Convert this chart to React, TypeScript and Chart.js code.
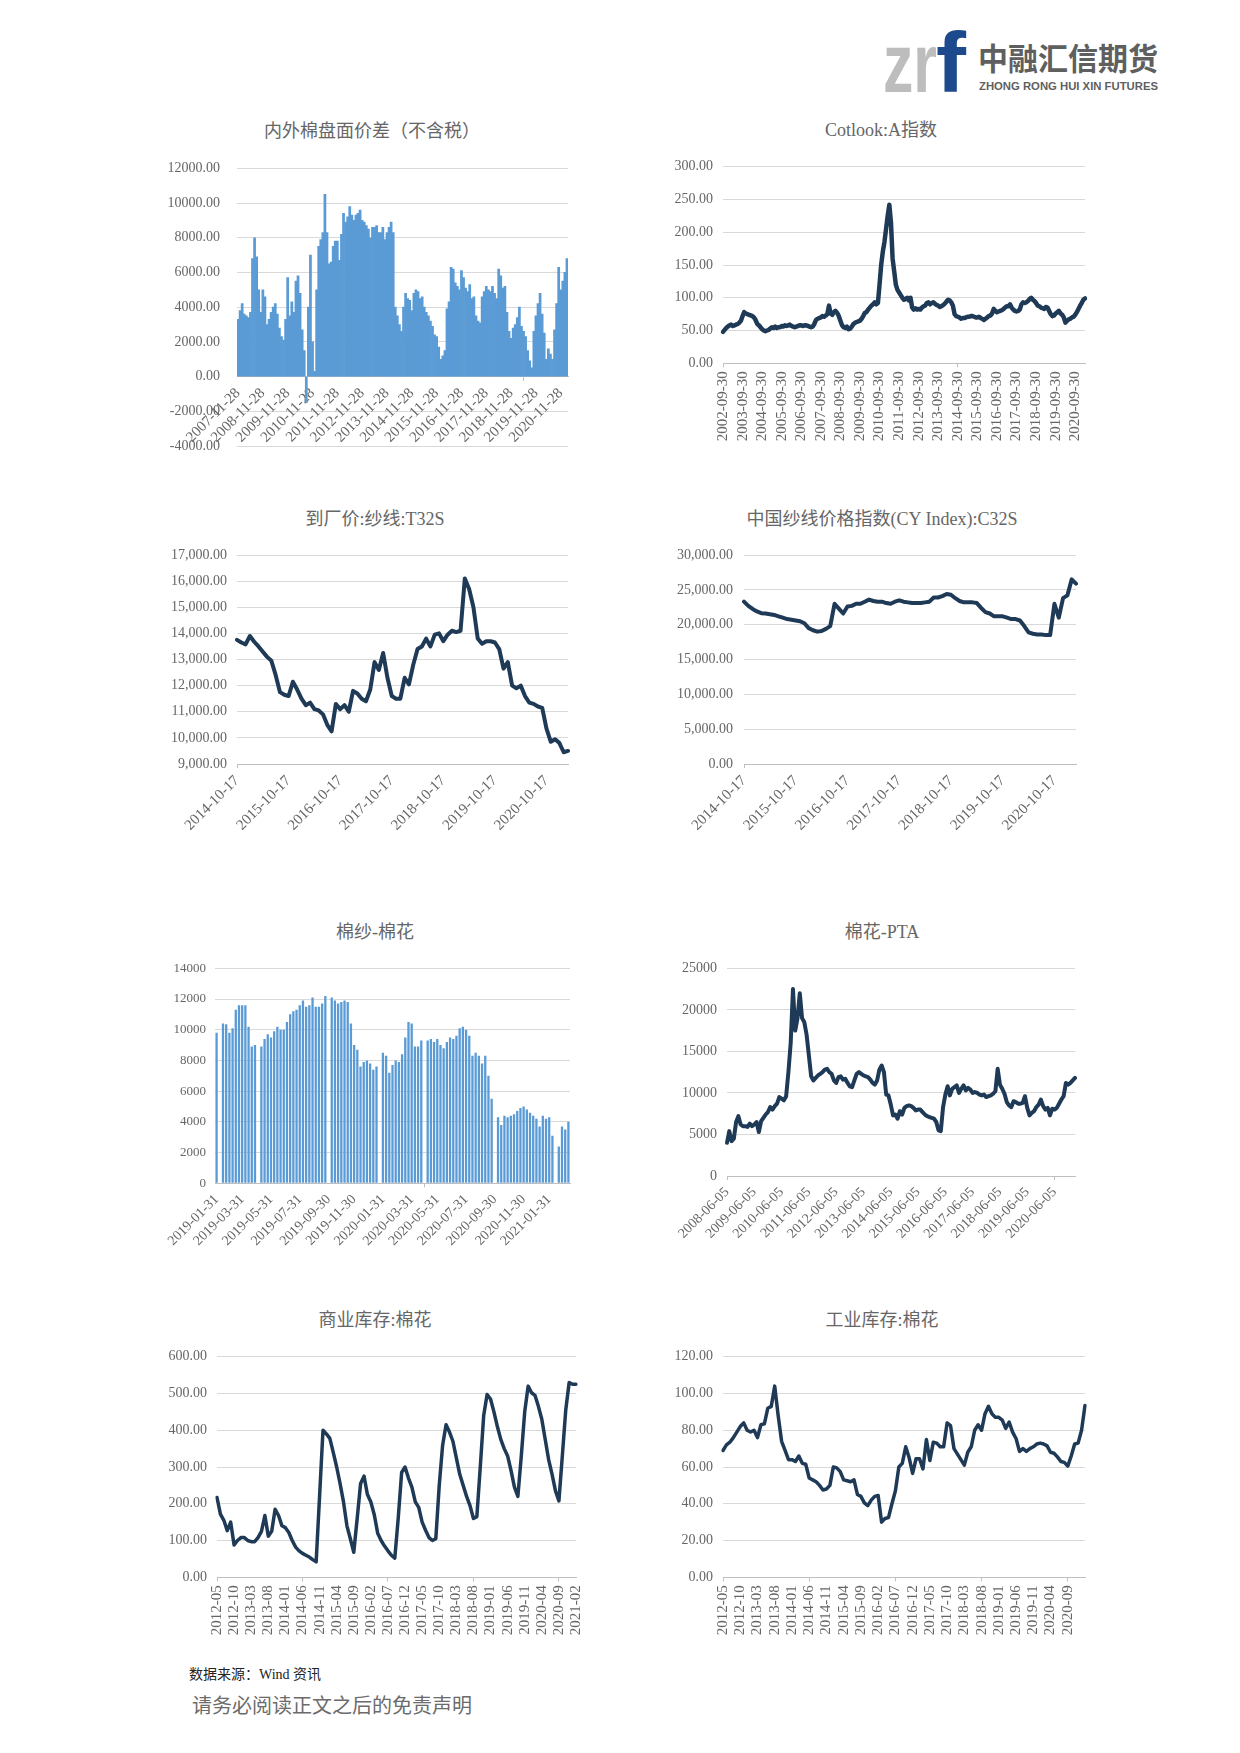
import React, { useEffect, useRef } from 'react';
import { Chart, registerables } from 'chart.js';

Chart.register(...registerables);

// ---------------- DATA ----------------
// 1. 内外棉盘面价差（不含税） monthly from 2007-11-28
const spreadValues = [
  3300, 3800, 4200, 3600, 3500, 3400, 3700, 6800, 8000, 6900,
  5000, 3700, 5000, 4600, 3000, 3300, 3700, 4000, 4200, 3600,
  2800, 2300, 2100, 3300, 5700, 3500, 4300, 3700, 5500, 5800,
  4800, 2700, 1500, -1500, 4000, 7000, 2000, 300, 5000, 7500,
  7900, 8300, 10500, 8300, 6500, 6600, 7500, 7800, 7800, 6700,
  8200, 9400, 8900, 9200, 9800, 9300, 9000, 9300, 9400, 9600,
  9000, 8900, 8700, 8500, 8000, 8600, 8600, 8700, 8300, 8300,
  8600, 7900, 8300, 8600, 8900, 8300, 4000, 3500, 3000, 2600,
  4000, 4800, 4500, 4400, 3800, 4800, 5000, 4900, 4500, 4600,
  4000, 3700, 3500, 3200, 2900, 2400, 2300, 1700, 1000, 1200,
  1500, 3900, 4300, 6300, 6200, 5400, 5200, 5000, 6100, 5700,
  5100, 4900, 5300, 4500, 4600, 3500, 3200, 3100, 4600, 4900,
  5200, 5000, 4900, 5200, 4800, 4500, 6200, 5800, 5100, 5200,
  3700, 2600, 2200, 2800, 3000, 3400, 4000, 2900, 2600, 2300,
  1500, 900, 500, 2600, 3500, 4200, 4800, 3600, 2500, 1000,
  1600, 1300, 1000, 2700, 4200, 6300, 5000, 5500, 6000, 6800,
];
const spreadTicks = [
  '2007-11-28', '2008-11-28', '2009-11-28', '2010-11-28', '2011-11-28', '2012-11-28', '2013-11-28',
  '2014-11-28', '2015-11-28', '2016-11-28', '2017-11-28', '2018-11-28', '2019-11-28', '2020-11-28',
];

// 2. Cotlook:A指数 monthly from 2002-09-30
const cotlookValues = [
  48, 51, 54, 56,
  58, 59, 57, 58, 59, 60, 62, 65, 72, 78, 76, 75,
  74, 73, 72, 70, 66, 60, 58, 55, 52, 50, 49, 50,
  51, 53, 55, 54, 56, 54, 55, 55, 57, 56, 58, 57,
  58, 59, 57, 56, 55, 56, 57, 58, 58, 57, 58, 58,
  57, 56, 55, 56, 60, 66, 68, 69, 70, 72, 71, 73,
  75, 88, 76, 74, 78, 80, 77, 72, 65, 58, 55, 54,
  56, 52, 53, 56, 60, 62, 63, 64, 65, 68, 72, 77,
  78, 82, 85, 88, 90, 93, 90, 92, 120, 150, 170, 185,
  205, 225, 242, 215, 160, 140, 120, 112, 108, 104, 100, 97,
  98, 100, 96, 100, 85, 82, 84, 82, 83, 82, 85, 87,
  88, 92, 93, 90, 92, 93, 91, 89, 88, 86, 87, 89,
  91, 94, 97, 96, 93, 88, 75, 72, 71, 70, 68, 69,
  69, 70, 71, 71, 72, 72, 71, 70, 70, 71, 69, 68,
  66, 68, 70, 72, 73, 76, 83, 80, 78, 79, 80, 81,
  83, 85, 87, 87, 90, 85, 82, 80, 79, 80, 82, 90,
  93, 92, 93, 95, 98, 100, 97, 95, 92, 88, 87, 85,
  84, 83, 86, 85, 80, 75, 72, 73, 76, 78, 80, 76,
  74, 70, 62, 65, 67, 68, 70, 71, 74, 78, 83, 88,
  92, 97, 99,
];
const cotlookTicks = [
  '2002-09-30', '2003-09-30', '2004-09-30', '2005-09-30', '2006-09-30', '2007-09-30', '2008-09-30',
  '2009-09-30', '2010-09-30', '2011-09-30', '2012-09-30', '2013-09-30', '2014-09-30', '2015-09-30',
  '2016-09-30', '2017-09-30', '2018-09-30', '2019-09-30', '2020-09-30',
];

// 3. 到厂价:纱线:T32S monthly from 2014-10-17
const t32sValues = [
  13750, 13650, 13580,
  13900, 13680, 13500, 13300, 13100, 12950, 12400, 11750, 11650, 11600, 12150, 11850,
  11500, 11250, 11350, 11100, 11050, 10900, 10500, 10250, 11300, 11100, 11250, 11000,
  11800, 11700, 11500, 11400, 11850, 12900, 12600, 13250, 12300, 11600, 11500, 11500,
  12300, 12050, 12800, 13400, 13500, 13800, 13500, 13950, 14000, 13700, 13950, 14100,
  14050, 14100, 16100, 15700, 15000, 13800, 13600, 13700, 13700, 13650, 13400, 12650,
  12900, 12000, 11900, 12000, 11600, 11350, 11300, 11200, 11150, 10350, 9850, 9950,
  9800, 9450, 9500,
];
const t32sTicks = ['2014-10-17', '2015-10-17', '2016-10-17', '2017-10-17', '2018-10-17', '2019-10-17', '2020-10-17'];

// 4. 中国纱线价格指数(CY Index):C32S monthly from 2014-10-17
const c32sValues = [
  23300, 22700, 22250,
  21900, 21650, 21600, 21500, 21400, 21200, 21000, 20800, 20700, 20600, 20500, 20200,
  19500, 19200, 19000, 19100, 19400, 19800, 23000, 22300, 21600, 22600, 22700, 23000,
  23000, 23300, 23600, 23400, 23300, 23300, 23100, 23000, 23300, 23500, 23300, 23200,
  23100, 23100, 23100, 23200, 23300, 23900, 23900, 24100, 24400, 24300, 23800, 23400,
  23200, 23200, 23200, 23100, 22400, 21800, 21600, 21200, 21200, 21200, 21000, 20800,
  20800, 20600, 19800, 18900, 18700, 18600, 18600, 18500, 18500, 23000, 21000, 23800,
  24200, 26500, 25900,
];
const c32sTicks = ['2014-10-17', '2015-10-17', '2016-10-17', '2017-10-17', '2018-10-17', '2019-10-17', '2020-10-17'];

// 5. 棉纱-棉花 weekly from 2019-01-31 (null = no trading)
const yarnCottonValues = [
  9800, null, 10400, 10350, 9800, 10100, 11300, 11600, 11600, 11600,
  10200, 8900, 9000, null, 8900, 9400, 9700, 9500, 9900, 10200,
  10000, 10000, 10500, 11000, 11200, 11300, 11600, 11900, 11500, 11600,
  12100, 11500, 11500, 11700, 12200, null, 12100, 11900, 11700, 11800,
  11900, 11800, 10400, 9000, 8700, 7600, 7900, 8000, 7800, 7400,
  7600, null, 8500, 8300, 7200, 7700, 8000, 7900, 8400, 9500,
  10500, 10400, 8900, 8900, 9300, null, 9300, 9400, 9200, 9400,
  9000, 8800, 9200, 9500, 9400, 9600, 10100, 10200, 10000, 9600,
  8300, 8500, 8300, 7800, 8300, 7000, 5500, null, 4300, 3800,
  4400, 4300, 4400, 4500, 4700, 4900, 5000, 4800, 4600, 4400,
  4200, 3700, 4400, 4200, 4300, 3100, null, 2400, 3700, 3500,
  4000,
];
const yarnCottonTicks = [
  '2019-01-31', '2019-03-31', '2019-05-31', '2019-07-31', '2019-09-30', '2019-11-30', '2020-01-31',
  '2020-03-31', '2020-05-31', '2020-07-31', '2020-09-30', '2020-11-30', '2021-01-31',
];

// 6. 棉花-PTA monthly from 2008-06-05
const cottonPtaValues = [
  4000, 5400, 4200, 4500, 6500, 7200, 6200, 6000, 6000, 5900,
  6300, 6000, 6200, 6500, 5300, 6600, 7000, 7400, 7700, 8300,
  8000, 8400, 8700, 9500, 9300, 9100, 9600, 12500, 16000, 22500,
  17500, 19000, 22000, 19000, 18500, 17000, 14500, 12000, 11500, 11800,
  12100, 12300, 12500, 12800, 12900, 12500, 12300, 11500, 11200, 11900,
  12000, 11600, 11700, 11200, 10800, 10700, 11500, 12300, 12500, 12300,
  12100, 12000, 11900, 11600, 11200, 11000, 11500, 12800, 13300, 12500,
  9800, 9700, 8600, 7300, 7400, 6900, 7800, 7400, 8200, 8400,
  8500, 8400, 8200, 7900, 8000, 8000, 7700, 7400, 7200, 7100,
  7000, 6900, 6500, 5500, 5400, 8300, 9800, 10800, 9700, 10500,
  10700, 10900, 10000, 10500, 10900, 10300, 10600, 10400, 10000, 10100,
  10000, 9800, 9700, 9800, 9500, 9600, 9700, 9900, 10200, 12900,
  11000, 10500, 9900, 8900, 8500, 8300, 9000, 8900, 8700, 8700,
  8800, 9600, 8200, 7300, 7600, 7800, 8300, 8600, 9200, 8400,
  8000, 8200, 7300, 8100, 8000, 8200, 8700, 9200, 9600, 11200,
  11000, 11200, 11500, 11800,
];
const cottonPtaTicks = [
  '2008-06-05', '2009-06-05', '2010-06-05', '2011-06-05', '2012-06-05', '2013-06-05', '2014-06-05',
  '2015-06-05', '2016-06-05', '2017-06-05', '2018-06-05', '2019-06-05', '2020-06-05',
];

// 7. 商业库存:棉花 monthly from 2012-05
const commercialStockValues = [
  217, 172, 155, 127, 150, 88, 100, 108,
  108, 100, 97, 97, 108, 125, 168, 112, 125, 185, 168, 140,
  135, 122, 100, 82, 72, 65, 60, 55, 48, 42, 220, 400,
  390, 378, 340, 300, 255, 205, 140, 105, 68, 160, 255, 275,
  225, 205, 170, 120, 100, 85, 72, 60, 52, 160, 285, 300,
  270, 245, 205, 190, 150, 128, 108, 100, 105, 250, 360, 415,
  395, 370, 325, 280, 250, 220, 195, 160, 165, 300, 440, 497,
  485, 450, 410, 375, 350, 330, 290, 245, 220, 330, 450, 520,
  502, 495, 465, 430, 375, 320, 280, 235, 208, 330, 455, 530,
  525, 525,
];
const commercialStockTicks = [
  '2012-05', '2012-10', '2013-03', '2013-08', '2014-01', '2014-06', '2014-11', '2015-04', '2015-09',
  '2016-02', '2016-07', '2016-12', '2017-05', '2017-10', '2018-03', '2018-08', '2019-01', '2019-06',
  '2019-11', '2020-04', '2020-09', '2021-02',
];

// 8. 工业库存:棉花 monthly from 2012-05
const industrialStockValues = [
  69, 72, 73.5, 76, 79, 82, 84, 80,
  79, 80, 76, 83, 83.5, 92, 93, 104, 88, 74, 69, 64,
  64, 63, 66, 62, 61.5, 54, 53, 52, 50, 47.5, 48, 50,
  60, 59.5, 57.5, 53, 52.5, 52, 53, 45, 44, 40.5, 39, 42,
  44, 44.5, 30, 32, 32.5, 40, 47, 60, 62, 71, 65, 56.5,
  64.5, 64.5, 59, 75, 63.5, 73.5, 73, 71, 71, 84, 82.5, 70,
  67, 64, 61, 68, 71, 80, 83, 80, 89, 93, 89, 87,
  87, 85.5, 81, 84.5, 79, 75.5, 68.5, 70, 68.5, 70, 71, 72.5,
  73, 72.5, 71.5, 68, 67.5, 65.5, 63, 62.5, 60.5, 66, 72.5, 73,
  80, 93.5,
];
const industrialStockTicks = [
  '2012-05', '2012-10', '2013-03', '2013-08', '2014-01', '2014-06', '2014-11', '2015-04', '2015-09',
  '2016-02', '2016-07', '2016-12', '2017-05', '2017-10', '2018-03', '2018-08', '2019-01', '2019-06',
  '2019-11', '2020-04', '2020-09',
];

// ---------------- HELPERS ----------------
const NUM_FONT = '"Liberation Serif", "Noto Sans CJK SC", serif';
const TITLE_FONT = '"Liberation Serif", "Noto Sans CJK SC", serif';
const TEXT_COLOR = '#666666';
const GRID_COLOR = '#d9d9d9';
const AXIS_COLOR = '#bfbfbf';
const LINE_COLOR = '#1f3a56';
const BAR_COLOR = '#5b9bd5';
const RIGHT_PAD = 26;

function pad2(n: number) {
  return String(n).padStart(2, '0');
}
function parseDate(s: string): number {
  const p = s.split('-').map(Number);
  return Date.UTC(p[0], p[1] - 1, p[2] || 1);
}
function monthly(y: number, m: number, d: number | null, n: number): string[] {
  const out: string[] = [];
  for (let i = 0; i < n; i++) {
    const mm = m - 1 + i;
    const yy = y + Math.floor(mm / 12);
    const mo = (mm % 12) + 1;
    out.push(`${yy}-${pad2(mo)}` + (d ? `-${pad2(d)}` : ''));
  }
  return out;
}
function weekly(start: string, n: number): string[] {
  const t0 = parseDate(start);
  const out: string[] = [];
  for (let i = 0; i < n; i++) out.push(new Date(t0 + i * 7 * 86400000).toISOString().slice(0, 10));
  return out;
}
function buildTickMap(cats: string[], ticks: string[]): Map<number, string> {
  const t = cats.map(parseDate);
  const map = new Map<number, string>();
  ticks.forEach((lbl) => {
    const v = parseDate(lbl);
    let best = 0;
    let bd = Infinity;
    t.forEach((x, i) => {
      const d = Math.abs(x - v);
      if (d < bd) {
        bd = d;
        best = i;
      }
    });
    map.set(best, lbl);
  });
  return map;
}
const fix2 = (v: number) => v.toFixed(2);
const comma2 = (v: number) => {
  const s = Math.round(v).toString().replace(/\B(?=(\d{3})+(?!\d))/g, ',');
  return s + '.00';
};
const plain = (v: number) => String(v);

type Spec = {
  title: string;
  titleX: number;
  titleY: number;
  box: { left: number; top: number; height: number };
  plot: { left: number; top: number; right: number; bottom: number };
  type: 'bar' | 'line';
  categories: string[];
  values: (number | null)[];
  tickLabels: string[];
  yMin: number;
  yMax: number;
  yStep: number;
  yFmt: (v: number) => string;
  yFont: number;
  xFont: number;
  yPad: number;
  rotation: number;
  xAtZero?: boolean;
  lineWidth?: number;
  barPct?: number;
};

const specs: Spec[] = [
  {
    title: '内外棉盘面价差（不含税）', titleX: 372, titleY: 131,
    box: { left: 130, top: 150, height: 310 },
    plot: { left: 237, top: 168.3, right: 568, bottom: 446 },
    type: 'bar', categories: monthly(2007, 11, 28, spreadValues.length), values: spreadValues,
    tickLabels: spreadTicks, yMin: -4000, yMax: 12000, yStep: 2000, yFmt: fix2, yFont: 14, xFont: 15, yPad: 17,
    rotation: 45, xAtZero: true, barPct: 1,
  },
  {
    title: 'Cotlook:A指数', titleX: 881, titleY: 130,
    box: { left: 590, top: 150, height: 320 },
    plot: { left: 723, top: 166.7, right: 1085, bottom: 363.3 },
    type: 'line', categories: monthly(2002, 9, 30, cotlookValues.length), values: cotlookValues,
    tickLabels: cotlookTicks, yMin: 0, yMax: 300, yStep: 50, yFmt: fix2, yFont: 14, xFont: 15, yPad: 10,
    rotation: 90, lineWidth: 4.5,
  },
  {
    title: '到厂价:纱线:T32S', titleX: 375, titleY: 519,
    box: { left: 130, top: 540, height: 320 },
    plot: { left: 237, top: 555, right: 568, bottom: 764 },
    type: 'line', categories: monthly(2014, 10, 17, t32sValues.length), values: t32sValues,
    tickLabels: t32sTicks, yMin: 9000, yMax: 17000, yStep: 1000, yFmt: comma2, yFont: 14, xFont: 15, yPad: 10,
    rotation: 45, lineWidth: 4,
  },
  {
    title: '中国纱线价格指数(CY Index):C32S', titleX: 882, titleY: 519,
    box: { left: 590, top: 540, height: 320 },
    plot: { left: 744, top: 555, right: 1076, bottom: 764 },
    type: 'line', categories: monthly(2014, 10, 17, c32sValues.length), values: c32sValues,
    tickLabels: c32sTicks, yMin: 0, yMax: 30000, yStep: 5000, yFmt: comma2, yFont: 14, xFont: 15, yPad: 11,
    rotation: 45, lineWidth: 4,
  },
  {
    title: '棉纱-棉花', titleX: 375, titleY: 932,
    box: { left: 130, top: 950, height: 315 },
    plot: { left: 215, top: 968.3, right: 570, bottom: 1183.3 },
    type: 'bar', categories: weekly('2019-01-31', yarnCottonValues.length), values: yarnCottonValues,
    tickLabels: yarnCottonTicks, yMin: 0, yMax: 14000, yStep: 2000, yFmt: plain, yFont: 13, xFont: 14, yPad: 9,
    rotation: 45, barPct: 0.72,
  },
  {
    title: '棉花-PTA', titleX: 882, titleY: 932,
    box: { left: 590, top: 950, height: 315 },
    plot: { left: 727, top: 968.3, right: 1075, bottom: 1176 },
    type: 'line', categories: monthly(2008, 6, 5, cottonPtaValues.length), values: cottonPtaValues,
    tickLabels: cottonPtaTicks, yMin: 0, yMax: 25000, yStep: 5000, yFmt: plain, yFont: 14, xFont: 14, yPad: 10,
    rotation: 45, lineWidth: 4,
  },
  {
    title: '商业库存:棉花', titleX: 375, titleY: 1320,
    box: { left: 130, top: 1340, height: 320 },
    plot: { left: 217, top: 1356.7, right: 576, bottom: 1577.3 },
    type: 'line', categories: monthly(2012, 5, null, commercialStockValues.length), values: commercialStockValues,
    tickLabels: commercialStockTicks, yMin: 0, yMax: 600, yStep: 100, yFmt: fix2, yFont: 14, xFont: 15, yPad: 10,
    rotation: 90, lineWidth: 3.5,
  },
  {
    title: '工业库存:棉花', titleX: 882, titleY: 1320,
    box: { left: 590, top: 1340, height: 320 },
    plot: { left: 723, top: 1356.7, right: 1085, bottom: 1577.3 },
    type: 'line', categories: monthly(2012, 5, null, industrialStockValues.length), values: industrialStockValues,
    tickLabels: industrialStockTicks, yMin: 0, yMax: 120, yStep: 20, yFmt: fix2, yFont: 14, xFont: 15, yPad: 10,
    rotation: 90, lineWidth: 3.5,
  },
];

function ChartBox({ spec }: { spec: Spec }) {
  const ref = useRef<HTMLCanvasElement>(null);
  const boxWidth = spec.plot.right + RIGHT_PAD - spec.box.left;
  useEffect(() => {
    const s = spec;
    const { box, plot } = s;
    const tickMap = buildTickMap(s.categories, s.tickLabels);
    const dataset: any =
      s.type === 'bar'
        ? {
            data: s.values,
            backgroundColor: BAR_COLOR,
            borderWidth: 0,
            barPercentage: s.barPct ?? 1,
            categoryPercentage: 1,
          }
        : {
            data: s.values,
            borderColor: LINE_COLOR,
            borderWidth: s.lineWidth ?? 3,
            pointRadius: 0,
            tension: 0,
            fill: false,
            borderJoinStyle: 'round',
            borderCapStyle: 'round',
          };
    const chart = new Chart(ref.current as HTMLCanvasElement, {
      type: s.type,
      data: { labels: s.categories, datasets: [dataset] },
      options: {
        responsive: true,
        maintainAspectRatio: false,
        animation: false,
        events: [],
        layout: {
          padding: {
            left: 0,
            top: plot.top - box.top,
            right: RIGHT_PAD,
            bottom: s.xAtZero ? box.top + box.height - plot.bottom : 0,
          },
        },
        plugins: {
          legend: { display: false },
          tooltip: { enabled: false },
          title: { display: false },
        },
        scales: {
          x: {
            position: s.xAtZero ? ({ y: 0 } as any) : 'bottom',
            offset: s.type === 'bar',
            grid: {
              display: true,
              drawOnChartArea: false,
              drawTicks: true,
              tickLength: 4,
              tickColor: (c: any) => (tickMap.has(c.index) ? AXIS_COLOR : 'rgba(0,0,0,0)'),
            },
            border: { display: true, color: AXIS_COLOR, width: 1 },
            ticks: {
              autoSkip: false,
              maxRotation: s.rotation,
              minRotation: s.rotation,
              padding: 4,
              color: TEXT_COLOR,
              font: { family: NUM_FONT, size: s.xFont },
              callback: (_v: any, i: number) => (tickMap.has(i) ? tickMap.get(i) : null),
            },
            afterFit: (scale: any) => {
              scale.height = s.xAtZero ? 0 : box.top + box.height - plot.bottom;
            },
          },
          y: {
            min: s.yMin,
            max: s.yMax,
            grid: {
              color: GRID_COLOR,
              lineWidth: 1,
              drawTicks: true,
              tickLength: s.yPad,
              tickColor: 'rgba(0,0,0,0)',
            },
            border: { display: false },
            ticks: {
              stepSize: s.yStep,
              padding: 0,
              color: TEXT_COLOR,
              font: { family: NUM_FONT, size: s.yFont },
              callback: (v: any) => s.yFmt(Number(v)),
            },
            afterFit: (scale: any) => {
              scale.width = plot.left - box.left;
            },
          },
        },
      } as any,
    });
    return () => chart.destroy();
  }, [spec]);
  return (
    <div
      style={{
        position: 'absolute',
        left: spec.box.left,
        top: spec.box.top,
        width: boxWidth,
        height: spec.box.height,
      }}
    >
      <canvas ref={ref} />
    </div>
  );
}

function Logo() {
  return (
    <svg width={1240} height={110} style={{ position: 'absolute', left: 0, top: 0 }}>
      <text
        x={883}
        y={92}
        fontSize={84}
        fontWeight={700}
        fontFamily='"Liberation Sans", Arial, sans-serif'
        fill="#bdbdbd"
        textLength={54}
        lengthAdjust="spacingAndGlyphs"
      >
        zr
      </text>
      <text
        x={936}
        y={92}
        fontSize={86}
        fontWeight={700}
        fontFamily='"Liberation Sans", Arial, sans-serif'
        fill="#1d4a8c"
        textLength={30}
        lengthAdjust="spacingAndGlyphs"
      >
        f
      </text>
      <text
        x={978}
        y={70}
        fontSize={31}
        fontWeight={700}
        fontFamily='"Noto Sans CJK SC", sans-serif'
        fill="#5f5f5f"
        textLength={180}
        lengthAdjust="spacingAndGlyphs"
      >
        中融汇信期货
      </text>
      <text
        x={979}
        y={90}
        fontSize={11.5}
        fontWeight={700}
        fontFamily='"Liberation Sans", Arial, sans-serif'
        fill="#5f5f5f"
        textLength={179}
        lengthAdjust="spacingAndGlyphs"
      >
        ZHONG RONG HUI XIN FUTURES
      </text>
    </svg>
  );
}

export default function App() {
  return (
    <div
      style={{
        position: 'absolute',
        left: 0,
        top: 0,
        width: 1240,
        height: 1753,
        background: '#ffffff',
        overflow: 'hidden',
      }}
    >
      <Logo />
      {specs.map((s, i) => (
        <React.Fragment key={i}>
          <div
            style={{
              position: 'absolute',
              left: s.titleX,
              top: s.titleY,
              transform: 'translate(-50%, -50%)',
              whiteSpace: 'nowrap',
              fontFamily: TITLE_FONT,
              fontSize: 18,
              lineHeight: 1,
              color: '#666666',
            }}
          >
            {s.title}
          </div>
          <ChartBox spec={s} />
        </React.Fragment>
      ))}
      <div
        style={{
          position: 'absolute',
          left: 189,
          top: 1668,
          fontFamily: '"Liberation Serif", "Noto Sans CJK SC", serif',
          fontSize: 14,
          lineHeight: 1,
          color: '#222222',
          whiteSpace: 'nowrap',
        }}
      >
        数据来源：Wind 资讯
      </div>
      <div
        style={{
          position: 'absolute',
          left: 192,
          top: 1695,
          fontFamily: '"Noto Sans CJK SC", sans-serif',
          fontSize: 20,
          lineHeight: 1,
          color: '#6b6b6b',
          whiteSpace: 'nowrap',
        }}
      >
        请务必阅读正文之后的免责声明
      </div>
    </div>
  );
}
